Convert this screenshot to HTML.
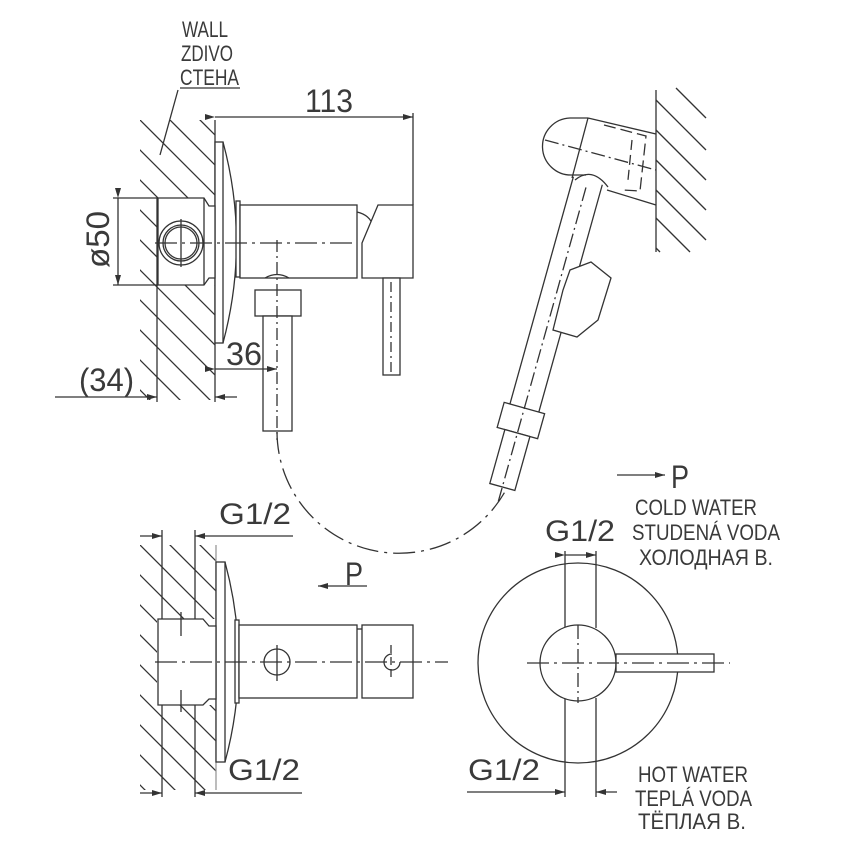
<!DOCTYPE html>
<html><head><meta charset="utf-8"><style>
html,body{margin:0;padding:0;background:#fff;width:852px;height:852px;overflow:hidden}
svg{display:block}
text{font-family:"Liberation Sans","DejaVu Sans",sans-serif;fill:#3a3a3a}
</style></head><body>
<svg width="852" height="852" viewBox="0 0 852 852" xmlns="http://www.w3.org/2000/svg">
<defs>
<clipPath id="c1"><rect x="140" y="120" width="75" height="280"/></clipPath>
<clipPath id="c2"><rect x="140" y="545" width="76" height="245"/></clipPath>
<marker id="a" viewBox="0 0 10 6" refX="10" refY="3" markerWidth="10" markerHeight="6" orient="auto" markerUnits="userSpaceOnUse"><path d="M0,0 L10,3 L0,6 z" fill="#333"/></marker>
</defs>
<g stroke="#333" stroke-width="1.3" fill="none">
<path clip-path="url(#c1)" d="M100,20 l200,200 M100,50 l200,200 M100,80 l200,200 M100,110 l200,200 M100,140 l200,200 M100,170 l200,200 M100,200 l200,200 M100,230 l200,200 M100,260 l200,200 M100,290 l200,200 M100,320 l200,200 M100,350 l200,200"/>
<rect x="157" y="198" width="58" height="87" fill="#fff" stroke="none"/>
<line x1="215" y1="120" x2="215" y2="402"/>
<line x1="180" y1="88" x2="240" y2="88"/>
<line x1="178" y1="90" x2="160" y2="155"/>
<line x1="215" y1="117" x2="413" y2="117" marker-start="url(#a)" marker-end="url(#a)"/>
<line x1="413" y1="113" x2="413" y2="205"/>
<rect x="215" y="142" width="8" height="201" fill="#fff"/>
<path d="M223,142 Q250,242 223,343"/>
<rect x="236" y="201" width="4" height="76" fill="#fff"/>
<path d="M158,198 L204,198 L209,206 L215,206 L215,278 L209,278 L204,285 L158,285 Z" fill="#fff"/>
<line x1="204" y1="198" x2="204" y2="285"/>
<circle cx="181" cy="243" r="22"/><circle cx="181" cy="243" r="18"/><circle cx="181" cy="243" r="16"/>
<line x1="181" y1="219" x2="181" y2="267"/>
<line x1="113" y1="198" x2="158" y2="198"/><line x1="113" y1="285" x2="158" y2="285"/>
<line x1="118" y1="198" x2="118" y2="285" marker-start="url(#a)" marker-end="url(#a)"/>
<line x1="157" y1="198" x2="157" y2="402"/>
<rect x="240" y="205" width="117" height="73" fill="#fff"/>
<path d="M357,212 Q370,215 373,226"/>
<path d="M378,205 L413,205 L413,278 L362,278 L362,243 Z" fill="#fff"/>
<line x1="155" y1="243" x2="357" y2="243" stroke-dasharray="22,5,3,5"/>
<path d="M265,278 Q277,271 289,278"/>
<rect x="255" y="290" width="46" height="26" fill="#fff"/>
<rect x="263" y="316" width="29" height="115" fill="#fff"/>
<line x1="277" y1="240" x2="277" y2="440" stroke-dasharray="12,4,2,4"/>
<rect x="383" y="278" width="17" height="97" fill="#fff"/>
<line x1="391" y1="282" x2="391" y2="372" stroke-dasharray="10,4,2,4"/>
<line x1="215" y1="369" x2="277" y2="369" marker-start="url(#a)" marker-end="url(#a)"/>
<line x1="55" y1="397" x2="157" y2="397" marker-end="url(#a)"/>
<line x1="237" y1="397" x2="215" y2="397" marker-end="url(#a)"/>
<path d="M277,432 A122,122 0 0 0 507,488" stroke-dasharray="22,6,3,6"/>

<line x1="656" y1="90" x2="656" y2="252"/>
<line x1="656" y1="100" x2="706" y2="150"/>
<line x1="656" y1="130" x2="706" y2="180"/>
<line x1="656" y1="160" x2="706" y2="210"/>
<line x1="656" y1="190" x2="706" y2="240"/>
<line x1="656" y1="218" x2="690" y2="252"/>
<line x1="676" y1="88" x2="706" y2="118"/>
<line x1="656" y1="248" x2="660" y2="252"/>
<g transform="translate(590,173) rotate(15.6)">
<path d="M-15,8 L-15,246 M15,8 L15,246"/>
<rect x="-21" y="244" width="42" height="26" fill="#fff"/>
<rect x="-13" y="270" width="26" height="56" fill="#fff"/>
<line x1="0" y1="15" x2="0" y2="345" stroke-dasharray="14,4,2,4"/>
</g>
<path d="M588,118 L570,118 A28,28 0 0 0 572,175 L586,175"/>
<line x1="588" y1="118" x2="572" y2="178"/>
<line x1="588" y1="118" x2="656" y2="134"/>
<line x1="607" y1="190" x2="656" y2="205"/>
<path d="M575,180 Q592,166 608,187"/>
<path d="M604,125 L646,136 L640,191 L622,190" stroke-dasharray="12,5"/>
<line x1="545" y1="140" x2="656" y2="170" stroke-dasharray="14,4,2,4"/>
<line x1="632" y1="140" x2="628" y2="180" stroke-dasharray="10,5"/>
<path d="M570,270 L591,262 L611,278 L598,320 L577,337 L553,330 L563,290 Z" fill="#fff"/>

<path clip-path="url(#c2)" d="M100,445 l200,200 M100,475 l200,200 M100,505 l200,200 M100,535 l200,200 M100,565 l200,200 M100,595 l200,200 M100,625 l200,200 M100,655 l200,200 M100,685 l200,200 M100,715 l200,200 M100,745 l200,200"/>
<rect x="157" y="619" width="59" height="86" fill="#fff" stroke="none"/>
<line x1="216" y1="545" x2="216" y2="790" stroke="#999"/>
<line x1="162" y1="530" x2="162" y2="797"/>
<line x1="195" y1="530" x2="195" y2="797"/>
<line x1="140" y1="536" x2="162" y2="536" marker-end="url(#a)"/>
<line x1="293" y1="536" x2="195" y2="536" marker-end="url(#a)"/>
<line x1="140" y1="793" x2="162" y2="793" marker-end="url(#a)"/>
<line x1="302" y1="793" x2="195" y2="793" marker-end="url(#a)"/>
<rect x="216" y="562" width="9" height="200" fill="#fff"/>
<path d="M225,562 Q252,662 225,762"/>
<rect x="235" y="620" width="4" height="83" fill="#fff"/>
<path d="M158,619 L203,619 L209,626 L216,626 L216,699 L209,699 L203,705 L158,705 Z" fill="#fff"/>
<line x1="181" y1="612" x2="181" y2="636"/><line x1="181" y1="690" x2="181" y2="712"/>
<rect x="239" y="625" width="118" height="73" fill="#fff"/>
<line x1="357" y1="629" x2="362" y2="629"/>
<rect x="362" y="625" width="51" height="73" fill="#fff"/>
<circle cx="277" cy="662" r="13"/>
<line x1="277" y1="645" x2="277" y2="681"/>
<path d="M392,654 A8,8 0 1 0 400,662"/>
<line x1="391" y1="645" x2="391" y2="681" stroke-dasharray="8,4"/>
<line x1="155" y1="662" x2="448" y2="662" stroke-dasharray="22,5,3,5"/>
<line x1="367" y1="586" x2="318" y2="586" marker-end="url(#a)"/>

<circle cx="578" cy="663" r="100"/>
<line x1="565" y1="551" x2="565" y2="628"/><line x1="596" y1="551" x2="596" y2="628"/>
<line x1="565" y1="698" x2="565" y2="797"/><line x1="596" y1="698" x2="596" y2="797"/>
<circle cx="578" cy="663" r="38" fill="#fff"/>
<rect x="616" y="654" width="98" height="18" fill="#fff"/>
<line x1="527" y1="663" x2="730" y2="663" stroke-dasharray="22,5,3,5"/>
<line x1="578" y1="625" x2="578" y2="703" stroke-dasharray="14,4,2,4"/>
<line x1="565" y1="555" x2="596" y2="555" marker-start="url(#a)" marker-end="url(#a)"/>
<line x1="467" y1="792" x2="565" y2="792" marker-end="url(#a)"/>
<line x1="617" y1="792" x2="596" y2="792" marker-end="url(#a)"/>
<line x1="617" y1="475" x2="665" y2="475" marker-end="url(#a)"/>
</g>
<g font-size="20">
<text x="182" y="37" textLength="46" lengthAdjust="spacingAndGlyphs" font-size="22">WALL</text>
<text x="181" y="61" textLength="52" lengthAdjust="spacingAndGlyphs" font-size="22">ZDIVO</text>
<text x="180" y="85" textLength="59" lengthAdjust="spacingAndGlyphs" font-size="22">CTEHA</text>
<text x="305" y="112" font-size="32" textLength="48" lengthAdjust="spacingAndGlyphs">113</text>
<text x="226" y="365" font-size="32" textLength="36" lengthAdjust="spacingAndGlyphs">36</text>
<text x="79" y="391" font-size="32" textLength="55" lengthAdjust="spacingAndGlyphs">(34)</text>
<text transform="translate(109,268) rotate(-90)" font-size="32" textLength="57" lengthAdjust="spacingAndGlyphs">ø50</text>
<text x="219" y="524" font-size="30" textLength="72" lengthAdjust="spacingAndGlyphs">G1/2</text>
<text x="228" y="780" font-size="30" textLength="72" lengthAdjust="spacingAndGlyphs">G1/2</text>
<text x="345" y="585" font-size="32" textLength="18" lengthAdjust="spacingAndGlyphs">P</text>
<text x="671" y="488" font-size="32" textLength="18" lengthAdjust="spacingAndGlyphs">P</text>
<text x="545" y="541" font-size="30" textLength="70" lengthAdjust="spacingAndGlyphs">G1/2</text>
<text x="468" y="780" font-size="30" textLength="72" lengthAdjust="spacingAndGlyphs">G1/2</text>
<text x="635" y="515" font-size="22" textLength="122" lengthAdjust="spacingAndGlyphs">COLD WATER</text>
<text x="632" y="540" font-size="22" textLength="148" lengthAdjust="spacingAndGlyphs">STUDENÁ VODA</text>
<text x="639" y="565" font-size="22" textLength="134" lengthAdjust="spacingAndGlyphs">ХОЛОДНАЯ В.</text>
<text x="638" y="782" font-size="22" textLength="110" lengthAdjust="spacingAndGlyphs">HOT WATER</text>
<text x="635" y="806" font-size="22" textLength="117" lengthAdjust="spacingAndGlyphs">TEPLÁ VODA</text>
<text x="638" y="829" font-size="22" textLength="108" lengthAdjust="spacingAndGlyphs">ТЁПЛАЯ В.</text>
</g>
</svg>
</body></html>
